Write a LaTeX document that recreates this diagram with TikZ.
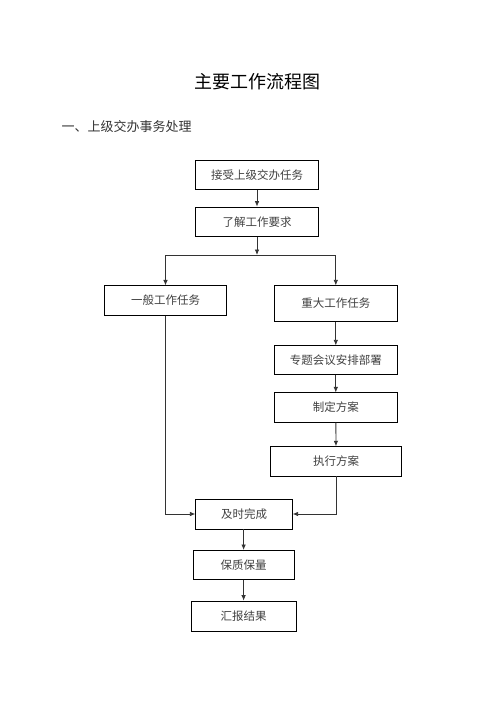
\documentclass[tikz,border=0pt]{standalone}
\usepackage{fontspec}
\setmainfont{Liberation Serif}
\newfontfamily\cjk{Noto Sans CJK SC}
\usetikzlibrary{arrows.meta}
\begin{document}
\begin{tikzpicture}[x=1pt,y=-1pt,
  flowbox/.style={draw=black,line width=0.6pt,minimum height=29.5pt,inner sep=0pt,font=\cjk\fontsize{11.5}{13}\selectfont,text=black!75},
  conn/.style={draw=black!80,line width=0.8pt,-{Latex[length=5.5pt,width=4.5pt]}},
  plain/.style={draw=black!80,line width=0.8pt}]
\useasboundingbox (0,0) rectangle (496,702);
\node[font=\cjk\fontsize{18}{20}\selectfont] (title) at (257,82) {主要工作流程图};
\node[font=\cjk\fontsize{13}{15}\selectfont,anchor=west,inner sep=0pt,text=black!80] (sub) at (61.5,127) {一、上级交办事务处理};
\node[flowbox,minimum width=122.6pt] (b1) at (257,175) {接受上级交办任务};
\node[flowbox,minimum width=122.6pt] (b2) at (257,221.7) {了解工作要求};
\coordinate (j) at (257,255);
\coordinate (jl) at (165.5,255);
\coordinate (jr) at (335.8,255);
\node[flowbox,minimum width=122.4pt] (l1) at (165.5,300.5) {一般工作任务};
\node[flowbox,minimum width=123pt,minimum height=35.6pt] (r1) at (335.8,303.5) {重大工作任务};
\node[flowbox,minimum width=123pt,minimum height=28.6pt] (r2) at (335.8,360) {专题会议安排部署};
\node[flowbox,minimum width=123pt] (r3) at (335.8,407.5) {制定方案};
\node[flowbox,minimum width=131.4pt] (r4) at (336,461.3) {执行方案};
\node[flowbox,minimum width=96.6pt,minimum height=30.3pt] (c1) at (244,514) {及时完成};
\node[flowbox,minimum width=100.7pt,minimum height=29pt] (c2) at (243.6,564.8) {保质保量};
\node[flowbox,minimum width=104.7pt,minimum height=30.7pt] (c3) at (243.6,616.3) {汇报结果};
\draw[conn] (b1) -- (b2);
\draw[conn] (b2) -- (j);
\draw[plain] (jl) -- (jr);
\draw[conn] (jl) -- (l1);
\draw[conn] (jr) -- (r1);
\draw[conn] (r1) -- (r2);
\draw[conn] (r2) -- (r3);
\draw[conn] (r3) -- (r4);
\draw[conn] (l1.south) |- (c1.west);
\draw[conn] (r4.south) |- (c1.east);
\draw[conn] (c1.south -| c2.north) -- (c2);
\draw[conn] (c2) -- (c3);
\end{tikzpicture}
\end{document}
